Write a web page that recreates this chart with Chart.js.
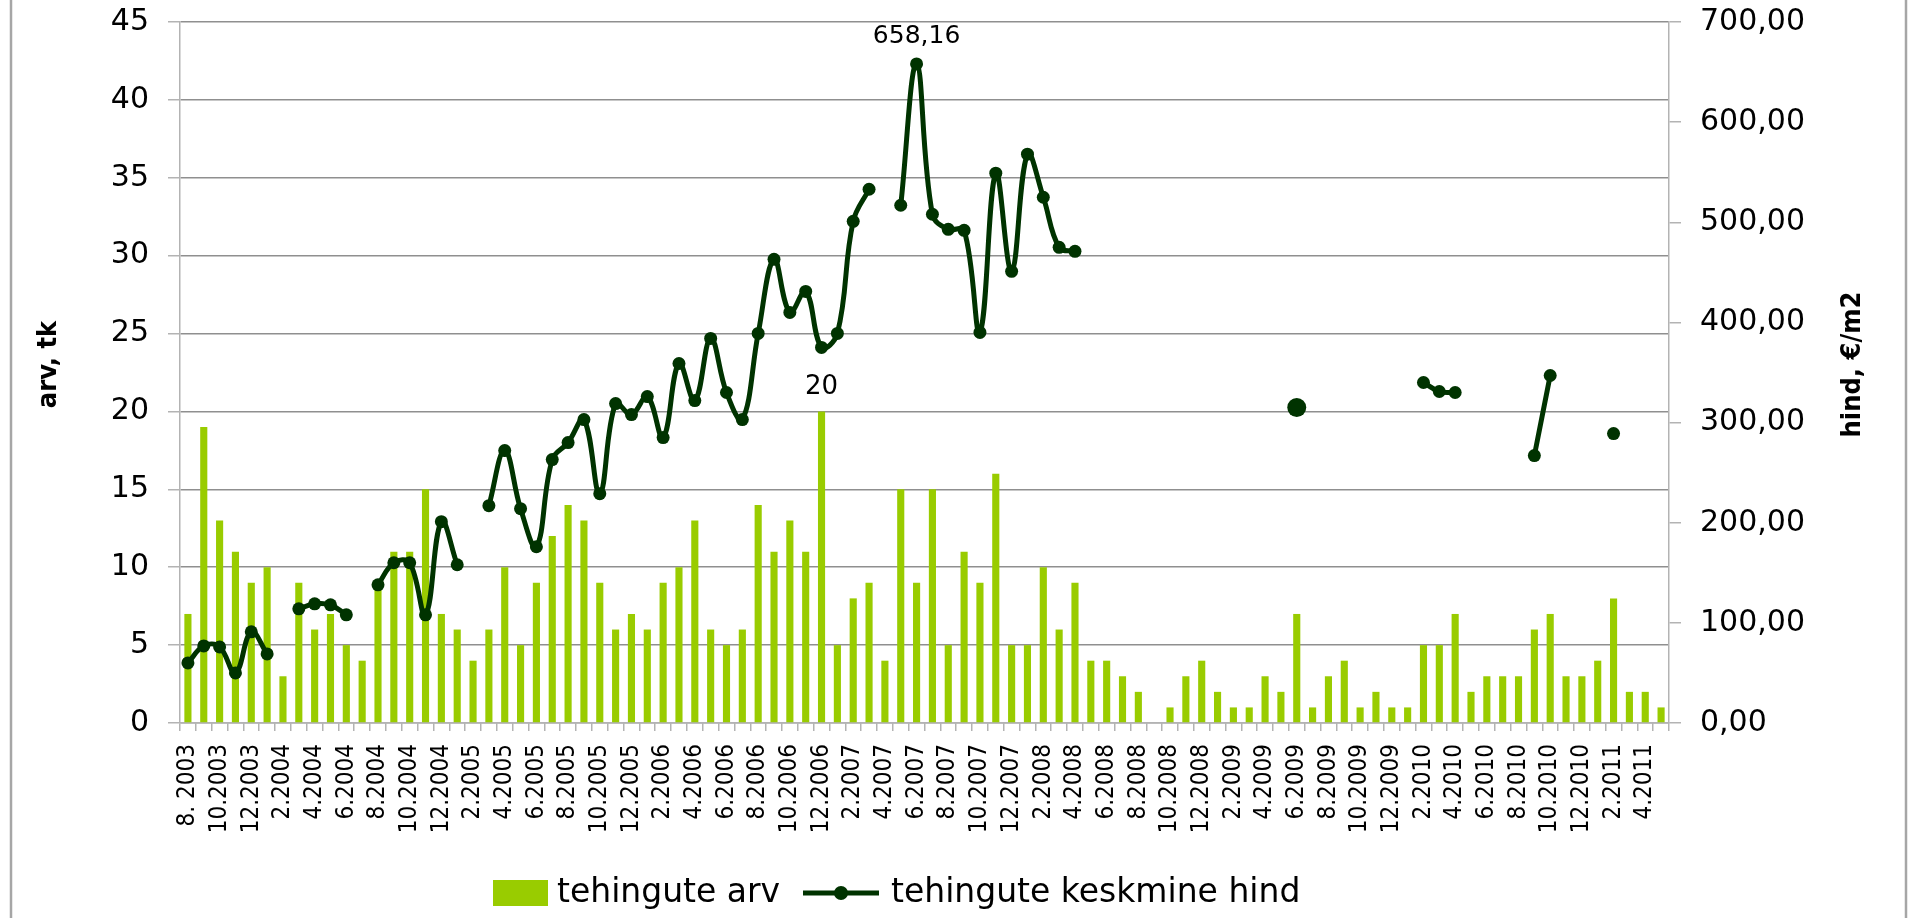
<!DOCTYPE html>
<html>
<head>
<meta charset="utf-8">
<title>tehingute arv ja keskmine hind</title>
<script src="https://cdn.jsdelivr.net/npm/chart.js@4.4.1/dist/chart.umd.min.js"></script>
<style>
  html, body { margin: 0; padding: 0; background: #ffffff; overflow: hidden; }
  canvas { display: block; }
</style>
</head>
<body>
<canvas id="chart" width="1908" height="918"></canvas>
<script>
// Months (category axis), 8.2003 … 5.2011
const months = [
  '8. 2003', '9.2003', '10.2003', '11.2003', '12.2003',
  '1.2004', '2.2004', '3.2004', '4.2004', '5.2004', '6.2004', '7.2004', '8.2004', '9.2004', '10.2004', '11.2004', '12.2004',
  '1.2005', '2.2005', '3.2005', '4.2005', '5.2005', '6.2005', '7.2005', '8.2005', '9.2005', '10.2005', '11.2005', '12.2005',
  '1.2006', '2.2006', '3.2006', '4.2006', '5.2006', '6.2006', '7.2006', '8.2006', '9.2006', '10.2006', '11.2006', '12.2006',
  '1.2007', '2.2007', '3.2007', '4.2007', '5.2007', '6.2007', '7.2007', '8.2007', '9.2007', '10.2007', '11.2007', '12.2007',
  '1.2008', '2.2008', '3.2008', '4.2008', '5.2008', '6.2008', '7.2008', '8.2008', '9.2008', '10.2008', '11.2008', '12.2008',
  '1.2009', '2.2009', '3.2009', '4.2009', '5.2009', '6.2009', '7.2009', '8.2009', '9.2009', '10.2009', '11.2009', '12.2009',
  '1.2010', '2.2010', '3.2010', '4.2010', '5.2010', '6.2010', '7.2010', '8.2010', '9.2010', '10.2010', '11.2010', '12.2010',
  '1.2011', '2.2011', '3.2011', '4.2011', '5.2011'
];

// Number of transactions per month (left axis, pcs)
const dealCount = [
  7, 19, 13, 11, 9,
  10, 3, 9, 6, 7, 5, 4, 9, 11, 11, 15, 7,
  6, 4, 6, 10, 5, 9, 12, 14, 13, 9, 6, 7,
  6, 9, 10, 13, 6, 5, 6, 14, 11, 13, 11, 20,
  5, 8, 9, 4, 15, 9, 15, 5, 11, 9, 16, 5,
  5, 10, 6, 9, 4, 4, 3, 2, 0, 1, 3, 4,
  2, 1, 1, 3, 2, 7, 1, 3, 4, 1, 2, 1,
  1, 5, 5, 7, 2, 3, 3, 3, 6, 7, 3, 3,
  4, 8, 2, 2, 1
];

// Average price per month (right axis, €/m2); null = no price that month
const avgPrice = [
  60, 77, 76, 50, 91,
  69, null, 114, 119, 118, 108, null, 138, 160, 160, 108, 201,
  158, null, 217, 272, 214, 176, 263, 280, 303, 229, 319, 308,
  326, 285, 359, 322, 384, 330, 303, 389, 463, 410, 431, 375,
  389, 501, 533, null, 517, 658.16, 508, 493, 492, 390, 549, 451,
  568, 525, 475, 471, null, null, null, null, null, null, null, null,
  null, null, null, null, null, 315, null, null, null, null, null, null,
  null, 340, 331, 330, null, null, null, null, 267, 347, null, null,
  null, 289, null, null, null
];

const seriesNames = ['tehingute arv', 'tehingute keskmine hind'];
const axisTitles = ['arv, tk', 'hind, €/m2'];

const BAR_COLOR = '#99cc00';
const LINE_COLOR = '#003300';
const TEXT_FONT = '"DejaVu Sans", "Liberation Sans", sans-serif';
const COND_FONT = '"DejaVu Sans Condensed", "Liberation Sans Narrow", "DejaVu Sans", sans-serif';

const fmtPrice = v => Number(v).toFixed(2).replace('.', ',');

// Outer frame lines and white background
const framePlugin = {
  id: 'frame',
  beforeDraw(chart) {
    const { ctx, width, height } = chart;
    ctx.save();
    ctx.fillStyle = '#ffffff';
    ctx.fillRect(0, 0, width, height);
    ctx.strokeStyle = '#a6a6a6';
    ctx.lineWidth = 2.5;
    ctx.beginPath();
    ctx.moveTo(11, 0); ctx.lineTo(11, height);
    ctx.moveTo(width - 2, 0); ctx.lineTo(width - 2, height);
    ctx.stroke();
    ctx.restore();
  }
};

// Value labels on the highest bar and the highest price point
const peakLabelPlugin = {
  id: 'peakLabels',
  afterDatasetsDraw(chart) {
    const { ctx } = chart;
    ctx.save();
    ctx.fillStyle = '#000';
    ctx.textAlign = 'center';
    ctx.textBaseline = 'alphabetic';
    chart.data.datasets.forEach((ds, di) => {
      const vals = ds.data.map(v => (v == null ? -Infinity : v));
      const idx = vals.indexOf(Math.max(...vals));
      const el = chart.getDatasetMeta(di).data[idx];
      if (!el) return;
      if (ds.type === 'line') {
        ctx.font = '25px ' + TEXT_FONT;
        ctx.fillText(fmtPrice(ds.data[idx]), el.x, el.y - 21);
      } else {
        ctx.font = '26px ' + TEXT_FONT;
        ctx.fillText(String(ds.data[idx]), el.x, el.y - 17);
      }
    });
    ctx.restore();
  }
};

// Axis titles (both read bottom-to-top) and the legend row
const decorPlugin = {
  id: 'decor',
  afterDraw(chart) {
    const { ctx, chartArea } = chart;
    const midY = (chartArea.top + chartArea.bottom) / 2;
    ctx.save();
    ctx.fillStyle = '#000';
    ctx.font = 'bold 27px ' + COND_FONT;
    ctx.textAlign = 'center';
    ctx.textBaseline = 'middle';
    [[49, axisTitles[0]], [1853, axisTitles[1]]].forEach(([x, t]) => {
      ctx.save();
      ctx.translate(x, midY - 8);
      ctx.rotate(-Math.PI / 2);
      ctx.fillText(t, 0, 0);
      ctx.restore();
    });

    // legend
    const ly = 893;
    ctx.fillStyle = BAR_COLOR;
    ctx.fillRect(493, 880, 55, 26);
    ctx.strokeStyle = LINE_COLOR;
    ctx.lineWidth = 5;
    ctx.beginPath();
    ctx.moveTo(803, ly); ctx.lineTo(879, ly);
    ctx.stroke();
    ctx.fillStyle = LINE_COLOR;
    ctx.beginPath();
    ctx.arc(841, ly, 7, 0, Math.PI * 2);
    ctx.fill();
    ctx.fillStyle = '#000';
    ctx.font = '33px ' + TEXT_FONT;
    ctx.textAlign = 'left';
    ctx.textBaseline = 'middle';
    ctx.fillText(seriesNames[0], 557, ly);
    ctx.fillText(seriesNames[1], 891, ly);
    ctx.restore();
  }
};

const bigPointIdx = months.indexOf('6.2009');

// fixed box sizes so the plot area sits at 180..1669 x 22..723
const fitY = w => s => { s.width = w; s.paddingTop = 0; s.paddingBottom = 0; };

new Chart(document.getElementById('chart'), {
  type: 'bar',
  data: {
    labels: months,
    datasets: [
      {
        type: 'line',
        label: seriesNames[1],
        data: avgPrice,
        yAxisID: 'y1',
        borderColor: LINE_COLOR,
        backgroundColor: LINE_COLOR,
        borderWidth: 5,
        pointRadius: c => (c.dataIndex === bigPointIdx ? 9.5 : 6.5),
        pointBackgroundColor: LINE_COLOR,
        pointBorderWidth: 0,
        tension: 0.4,
        spanGaps: false,
        order: 0
      },
      {
        type: 'bar',
        label: seriesNames[0],
        data: dealCount,
        yAxisID: 'y',
        backgroundColor: BAR_COLOR,
        borderWidth: 0,
        barPercentage: 0.45,
        categoryPercentage: 1,
        order: 1
      }
    ]
  },
  options: {
    responsive: false,
    animation: false,
    devicePixelRatio: 1,
    layout: { padding: { top: 22, left: 0, right: 0, bottom: 0 } },
    plugins: { legend: { display: false }, tooltip: { enabled: false } },
    scales: {
      x: {
        offset: true,
        grid: { display: true, offset: true, drawOnChartArea: false, drawTicks: true, tickLength: 8, color: '#b3b3b3', lineWidth: 1.5 },
        border: { display: true, color: '#b3b3b3', width: 1.5 },
        ticks: {
          autoSkip: false,
          minRotation: 90,
          maxRotation: 90,
          padding: 13,
          color: '#000',
          font: { family: COND_FONT, size: 24 },
          callback: (v, i) => (i % 2 === 0 ? months[i] : '')
        },
        afterFit: s => { s.height = 195; s.paddingLeft = 0; s.paddingRight = 0; }
      },
      y: {
        position: 'left',
        min: 0,
        max: 45,
        ticks: { stepSize: 5, padding: 19, color: '#000', font: { family: TEXT_FONT, size: 30 } },
        grid: { color: '#8f8f8f', tickColor: '#b3b3b3', tickLength: 12, drawTicks: true, lineWidth: 1.5 },
        border: { display: true, color: '#b3b3b3', width: 1.5 },
        afterFit: fitY(180)
      },
      y1: {
        position: 'right',
        min: 0,
        max: 700,
        ticks: { stepSize: 100, padding: 19, color: '#000', font: { family: TEXT_FONT, size: 30 }, callback: v => fmtPrice(v) },
        grid: { drawOnChartArea: false, color: '#b3b3b3', tickLength: 12, drawTicks: true, lineWidth: 1.5 },
        border: { display: true, color: '#b3b3b3', width: 1.5 },
        afterFit: fitY(239)
      }
    }
  },
  plugins: [framePlugin, peakLabelPlugin, decorPlugin]
});
</script>
</body>
</html>
